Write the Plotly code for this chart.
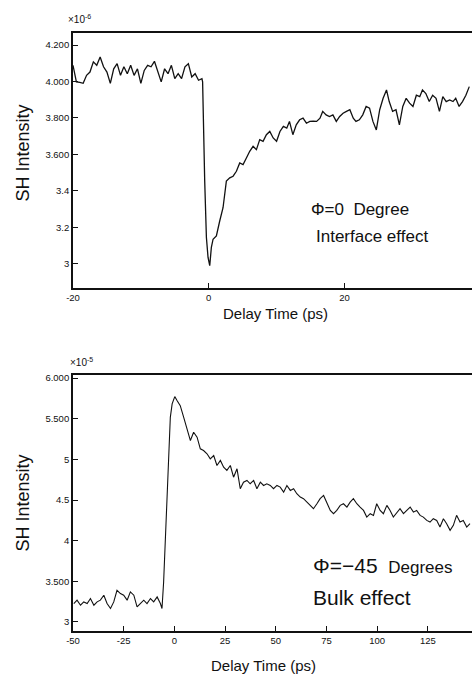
import plotly.graph_objects as go

# ---------------- data: top panel (Phi = 0) ----------------
t_top = [-20.0, -19.5, -19.0, -18.5, -18.0, -17.5, -17.0, -16.5, -16.0, -15.5,
         -15.0, -14.5, -14.0, -13.5, -13.0, -12.5, -12.0, -11.5, -11.0, -10.5,
         -10.0, -9.5, -9.0, -8.5, -8.0, -7.5, -7.0, -6.5, -6.0, -5.5,
         -5.0, -4.5, -4.0, -3.5, -3.0, -2.5, -2.0, -1.5, -1.0,
         -0.9, -0.8, -0.59, -0.34, -0.10, 0.15, 0.39, 0.64, 1.13, 1.62,
         2.11, 2.60, 3.10, 3.59, 4.08, 4.57, 5.06, 5.55, 6.04, 6.54,
         7.03, 7.52, 8.01, 8.50,
         9.0, 9.5, 10.0, 10.5, 11.0, 11.5, 11.9, 12.4, 12.9, 13.4,
         13.9, 14.4, 14.9, 15.4, 15.9, 16.4, 16.8, 17.3, 17.8, 18.3,
         18.8, 19.3, 19.8, 20.3, 20.8, 21.3, 21.7, 22.2, 22.7, 23.2,
         23.7, 24.2, 24.7, 25.2, 25.7, 26.2, 26.6, 27.1, 27.6, 28.1,
         28.6, 29.1, 29.6, 30.1, 30.6, 31.1, 31.5, 32.0, 32.5, 33.0,
         33.5, 34.0, 34.5, 35.0, 35.5, 36.0, 36.4, 36.9, 37.4, 37.9,
         38.4]
sh_top = [4.089, 3.998, 3.995, 3.990, 4.034, 4.052, 4.108, 4.089, 4.135, 4.081,
          4.052, 3.990, 4.070, 4.098, 4.034, 4.081, 4.043, 4.089, 4.034, 4.070,
          3.990, 4.061, 4.089, 4.081, 4.111, 4.052, 3.998, 4.070, 4.043, 4.089,
          4.016, 4.043, 4.016, 4.081, 4.098, 4.025, 4.043, 4.007, 4.016,
          3.998, 3.742, 3.453, 3.143, 3.034, 2.989, 3.089, 3.134, 3.152, 3.234,
          3.307, 3.453, 3.471, 3.480, 3.507, 3.553, 3.544, 3.580, 3.617, 3.644,
          3.626, 3.681, 3.672, 3.708,
          3.726, 3.690, 3.672, 3.726, 3.754, 3.744, 3.781, 3.708, 3.762, 3.790,
          3.799, 3.771, 3.781, 3.783, 3.781, 3.799, 3.836, 3.817, 3.808, 3.817,
          3.781, 3.808, 3.826, 3.836, 3.845, 3.799, 3.781, 3.790, 3.817, 3.863,
          3.854, 3.781, 3.734, 3.845, 3.908, 3.954, 3.890, 3.836, 3.845, 3.762,
          3.863, 3.908, 3.881, 3.863, 3.925, 3.917, 3.954, 3.934, 3.890, 3.925,
          3.908, 3.836, 3.917, 3.890, 3.899, 3.890, 3.908, 3.863, 3.890, 3.925,
          3.972]

# ---------------- data: bottom panel (Phi = -45) ----------------
t_bot = [-49.6, -48.0, -46.3, -44.7, -43.0, -41.4, -39.7, -38.1, -36.5, -34.8,
         -33.2, -31.5, -29.9, -28.3, -26.6, -25.0, -23.3, -21.7, -20.0, -18.4,
         -16.8, -15.1, -13.5, -11.8, -10.2, -8.5, -6.9,
         -6.1, -5.3, -4.4, -3.6, -2.8, -2.0, -1.1, 0.2,
         1.3, 2.9, 4.6, 6.2, 7.9, 9.5, 11.2, 12.8, 14.4, 16.1,
         17.7, 19.4, 21.0, 22.7, 24.3, 25.9, 27.6, 29.2, 30.9, 32.5,
         34.1, 35.8, 37.4, 39.1, 40.7, 42.4, 44.0, 45.6,
         47.3, 48.9, 50.6, 52.2, 53.9, 55.5, 57.2, 58.8, 60.4, 62.1,
         63.7, 65.4, 67.0, 68.6, 70.3, 71.9, 73.6, 75.2, 76.9, 78.5,
         80.1, 81.8, 83.4, 85.1, 86.7, 88.3, 90.0, 91.6, 93.3, 94.9,
         96.6, 98.2, 99.8, 101.5, 103.1, 104.8, 106.4, 108.0, 109.7, 111.3,
         113.0, 114.6, 116.3, 117.9, 119.5, 121.2, 122.8, 124.5, 126.1, 127.7,
         129.4, 131.0, 132.7, 134.3, 136.0, 137.6, 139.2, 140.9, 142.5, 144.2,
         145.8]
sh_bot = [3.226, 3.267, 3.205, 3.246, 3.226, 3.287, 3.205, 3.246, 3.267, 3.328,
          3.226, 3.165, 3.246, 3.389, 3.349, 3.328, 3.267, 3.369, 3.328, 3.184,
          3.226, 3.267, 3.226, 3.287, 3.246, 3.307, 3.226,
          3.165, 3.491, 4.044, 4.618, 5.150, 5.518, 5.683, 5.773,
          5.724, 5.662, 5.518, 5.376, 5.232, 5.334, 5.273, 5.130, 5.109, 5.069,
          5.007, 5.048, 4.925, 4.987, 4.904, 4.864, 4.925, 4.781, 4.884, 4.639,
          4.720, 4.741, 4.700, 4.741, 4.639, 4.720, 4.679, 4.700,
          4.679, 4.639, 4.679, 4.659, 4.597, 4.679, 4.618, 4.639, 4.577, 4.536,
          4.516, 4.474, 4.434, 4.393, 4.454, 4.516, 4.556, 4.474, 4.372, 4.332,
          4.372, 4.434, 4.454, 4.413, 4.474, 4.516, 4.454, 4.413, 4.372, 4.290,
          4.332, 4.311, 4.454, 4.372, 4.332, 4.434, 4.372, 4.290, 4.351, 4.393,
          4.332, 4.372, 4.413, 4.351, 4.372, 4.311, 4.290, 4.249, 4.229, 4.270,
          4.249, 4.167, 4.270, 4.209, 4.127, 4.188, 4.311, 4.229, 4.249, 4.167,
          4.209]

# ---------------- tick labels ----------------
top_x_ticks = [-20, 0, 20]
top_x_labels = ["-20", "0", "20"]
top_y_ticks = [4.2, 4.0, 3.8, 3.6, 3.4, 3.2, 3.0]
top_y_labels = ["4.200", "4.000", "3.800", "3.600", "3.4", "3.2", "3"]
bot_x_ticks = [-50, -25, 0, 25, 50, 75, 100, 125]
bot_x_labels = ["-50", "-25", "0", "25", "50", "75", "100", "125"]
bot_y_ticks = [6.0, 5.5, 5.0, 4.5, 4.0, 3.5, 3.0]
bot_y_labels = ["6.000", "5.500", "5", "4.5", "4", "3.500", "3"]

W, H = 472, 678
ML = 73
FONT = "Liberation Sans, Arial, sans-serif"

fig = go.Figure()
fig.add_trace(go.Scatter(x=t_top, y=sh_top, mode="lines",
                         line=dict(color="#111111", width=1.3),
                         xaxis="x", yaxis="y", showlegend=False))
fig.add_trace(go.Scatter(x=t_bot, y=sh_bot, mode="lines",
                         line=dict(color="#111111", width=1.1),
                         xaxis="x2", yaxis="y2", showlegend=False))

def py(px):
    return 1 - px / H

def pxx(px):
    return (px - ML) / (W - ML)

axis_common = dict(showgrid=False, zeroline=False, showline=True,
                   linecolor="#111111", linewidth=1.8, ticks="inside",
                   ticklen=5, tickcolor="#111111", tickwidth=1.2,
                   tickfont=dict(family=FONT, size=9.5, color="#111111"))

fig.update_layout(
    width=W, height=H,
    margin=dict(l=ML, r=0, t=0, b=0),
    paper_bgcolor="white", plot_bgcolor="white",
    xaxis=dict(domain=[0, 1], anchor="y", range=[-20, 38.8],
               tickvals=top_x_ticks, ticktext=top_x_labels, mirror=True,
               **axis_common),
    yaxis=dict(domain=[py(286.7), py(31)], anchor="x", range=[2.867, 4.267],
               tickvals=top_y_ticks, ticktext=top_y_labels, **axis_common),
    xaxis2=dict(domain=[0, 1], anchor="y2", range=[-50, 146.8],
                tickvals=bot_x_ticks, ticktext=bot_x_labels, mirror=True,
                **axis_common),
    yaxis2=dict(domain=[py(631), py(374)], anchor="x2", range=[2.886, 6.04],
                tickvals=bot_y_ticks, ticktext=bot_y_labels, **axis_common),
)

def ann(text, x, y, size, xanchor="center", angle=0):
    fig.add_annotation(text=text, x=pxx(x), y=py(y), xref="paper", yref="paper",
                       xanchor=xanchor, yanchor="middle", showarrow=False,
                       textangle=angle,
                       font=dict(family=FONT, size=size, color="#111111"))

# axis titles
ann("SH Intensity", 23, 152, 18, angle=-90)
ann("SH Intensity", 23, 503, 18, angle=-90)
ann("Delay Time (ps)", 275, 312, 15)
ann("Delay Time (ps)", 263, 665, 15)
# exponent labels
ann("×10<sup>-6</sup>", 66, 17, 10, xanchor="left")
ann("×10<sup>-5</sup>", 68, 361, 10, xanchor="left")
# panel labels
ann("Φ=0  Degree", 309, 208, 17, xanchor="left")
ann("Interface effect", 314, 235, 17, xanchor="left")
ann("Φ=−45 <span style='font-size:17px'> Degrees</span>", 311, 565, 21, xanchor="left")
ann("Bulk effect", 311, 597, 21, xanchor="left")

fig.write_html("out.html")
